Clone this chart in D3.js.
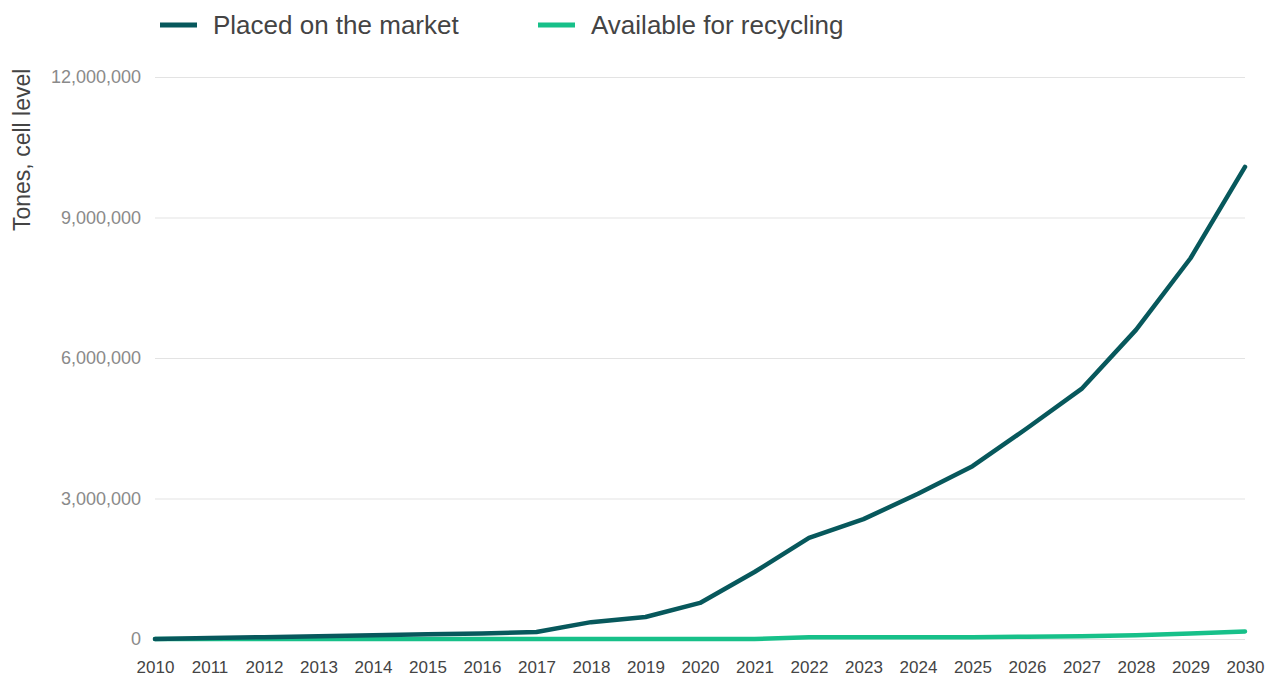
<!DOCTYPE html>
<html>
<head>
<meta charset="utf-8">
<script src="https://cdn.jsdelivr.net/npm/d3@7"></script>
<style>
  body { margin: 0; background: #fff; }
  text { font-family: "Liberation Sans", Arial, sans-serif; }
</style>
</head>
<body>
<div id="chart"></div>
<script>
// svg dimensions
let svgWidth = 1282,
  svgHeight = 682;

let margins = { top: 77, right: 37, bottom: 43, left: 155 };
let chartWidth = svgWidth - margins.left - margins.right;
let chartHeight = svgHeight - margins.top - margins.bottom;

// data
let years = [2010, 2011, 2012, 2013, 2014, 2015, 2016, 2017, 2018, 2019, 2020,
  2021, 2022, 2023, 2024, 2025, 2026, 2027, 2028, 2029, 2030];
let placedOnMarket = [0, 20000, 40000, 60000, 80000, 100000, 120000, 150000, 360000,
  470000, 770000, 1430000, 2160000, 2560000, 3100000, 3690000, 4500000, 5340000,
  6600000, 8130000, 10080000];
let availableForRecycling = [0, 0, 0, 0, 0, 0, 0, 0, 0, 0, 0, 0, 40000, 40000,
  40000, 40000, 50000, 60000, 80000, 120000, 160000];
let yTicks = [0, 3000000, 6000000, 9000000, 12000000];

let seriesNames = ["Placed on the market", "Available for recycling"];
let seriesColors = ["#07585c", "#17c089"];

let svg = d3
  .select("#chart")
  .append("svg")
  .attr("width", svgWidth)
  .attr("height", svgHeight);

let chartGroup = svg
  .append("g")
  .attr("transform", `translate(${margins.left}, ${margins.top})`);

// scales
let xScale = d3.scaleLinear().domain([2010, 2030]).range([0, chartWidth]);
let yScale = d3.scaleLinear().domain([0, 12000000]).range([chartHeight, 0]);

// gridlines + y labels
let leftAxis = d3
  .axisLeft(yScale)
  .tickValues(yTicks)
  .tickSize(-chartWidth)
  .tickPadding(14)
  .tickFormat(d3.format(","));

let yAxisGroup = chartGroup.append("g").call(leftAxis);
yAxisGroup.select(".domain").remove();
yAxisGroup.selectAll("line").attr("stroke", "#e3e3e3");
yAxisGroup
  .selectAll("text")
  .attr("fill", "#8a8a8a")
  .attr("font-size", "18px");

// x labels
let bottomAxis = d3
  .axisBottom(xScale)
  .tickValues(years)
  .tickSize(0)
  .tickPadding(22)
  .tickFormat(d3.format("d"));

let xAxisGroup = chartGroup
  .append("g")
  .attr("transform", `translate(0, ${chartHeight})`)
  .call(bottomAxis);
xAxisGroup.select(".domain").remove();
xAxisGroup
  .selectAll("text")
  .attr("fill", "#444")
  .attr("font-size", "17px");

// lines
let lineGen = (values) =>
  d3
    .line()
    .x((d, i) => xScale(years[i]))
    .y((d) => yScale(d))(values);

[availableForRecycling, placedOnMarket].forEach((values, k) => {
  chartGroup
    .append("path")
    .attr("d", lineGen(values))
    .attr("fill", "none")
    .attr("stroke", k === 0 ? seriesColors[1] : seriesColors[0])
    .attr("stroke-width", 4.5)
    .attr("stroke-linecap", "round")
    .attr("stroke-linejoin", "round");
});

// y axis title
svg
  .append("text")
  .attr("transform", `translate(30, 231) rotate(-90)`)
  .attr("fill", "#444")
  .attr("font-size", "23px")
  .text("Tones, cell level");

// legend
let legendX = [160, 538];
seriesNames.forEach((name, i) => {
  let g = svg.append("g").attr("transform", `translate(${legendX[i]}, 25)`);
  g.append("line")
    .attr("x1", 0)
    .attr("x2", 37)
    .attr("stroke", seriesColors[i])
    .attr("stroke-width", 5);
  g.append("text")
    .attr("x", 53)
    .attr("y", 9)
    .attr("fill", "#444")
    .attr("font-size", "26px")
    .text(name);
});
</script>
</body>
</html>
